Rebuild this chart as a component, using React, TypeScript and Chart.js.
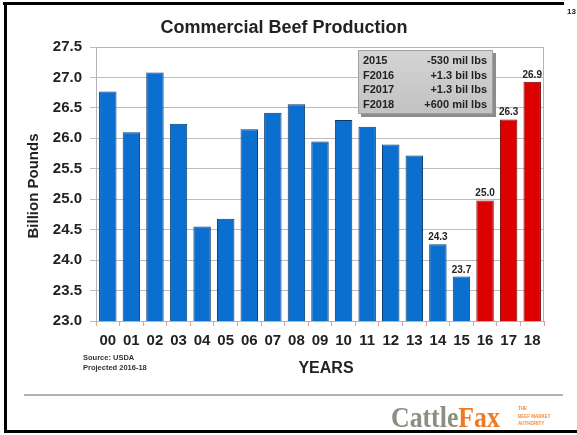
import React, { useEffect, useRef } from "react";
import { Chart, registerables } from "chart.js";

Chart.register(...registerables);

const years = ["00", "01", "02", "03", "04", "05", "06", "07", "08", "09", "10", "11", "12", "13", "14", "15", "16", "17", "18"];
const production = [26.77, 26.1, 27.08, 26.24, 24.55, 24.68, 26.15, 26.42, 26.56, 25.95, 26.3, 26.19, 25.9, 25.72, 24.26, 23.73, 24.98, 26.31, 26.93];
const projected = [false, false, false, false, false, false, false, false, false, false, false, false, false, false, false, false, true, true, true];
const showValue = [false, false, false, false, false, false, false, false, false, false, false, false, false, false, true, true, true, true, true];
const annotYears = ["2015", "F2016", "F2017", "F2018"];
const annotChanges = ["-530 mil lbs", "+1.3 bil lbs", "+1.3 bil lbs", "+600 mil lbs"];
const yMin = 23.0;
const yMax = 27.5;
const yStep = 0.5;

const FONT = '"Liberation Sans", Arial, sans-serif';

function barFill(ctx: any, isRed: boolean) {
  const el = ctx.element;
  const chart = ctx.chart;
  if (!el || !chart.ctx || el.x === undefined || !isFinite(el.x)) return isRed ? "#dd0000" : "#0b6fcf";
  const w = el.width || 18;
  const g = chart.ctx.createLinearGradient(el.x - w / 2, 0, el.x + w / 2, 0);
  if (isRed) {
    g.addColorStop(0, "#b80000");
    g.addColorStop(0.45, "#ee0a0a");
    g.addColorStop(1, "#c00000");
  } else {
    g.addColorStop(0, "#0a5cb0");
    g.addColorStop(0.45, "#1a7fe0");
    g.addColorStop(1, "#0a60b8");
  }
  return g;
}

const decorPlugin = {
  id: "decor",
  afterDatasetsDraw(chart: any) {
    const ctx = chart.ctx;
    const meta = chart.getDatasetMeta(0);
    ctx.save();
    ctx.font = `bold 10px ${FONT}`;
    ctx.fillStyle = "#222";
    ctx.textAlign = "center";
    ctx.textBaseline = "alphabetic";
    meta.data.forEach((bar: any, i: number) => {
      if (!showValue[i]) return;
      ctx.fillText(production[i].toFixed(1), bar.x, bar.y - 4);
    });
    ctx.restore();
  },
  afterDraw(chart: any) {
    const ctx = chart.ctx;
    const area = chart.chartArea;
    ctx.save();
    // plot border
    ctx.strokeStyle = "#b4b4b4";
    ctx.lineWidth = 1;
    ctx.strokeRect(area.left + 0.5, area.top + 0.5, area.right - area.left - 1, area.bottom - area.top);

    // frame
    ctx.fillStyle = "#000";
    ctx.fillRect(3, 2, 561, 3);
    ctx.fillRect(4, 2, 3, 431);
    ctx.fillRect(4, 430, 573, 3);

    // page number
    ctx.font = `bold 8px ${FONT}`;
    ctx.textAlign = "left";
    ctx.textBaseline = "middle";
    ctx.fillStyle = "#222";
    ctx.fillText("13", 567, 12);

    // title
    ctx.font = `bold 18px ${FONT}`;
    ctx.textAlign = "center";
    ctx.textBaseline = "middle";
    ctx.fillStyle = "#222";
    ctx.fillText("Commercial Beef Production", 284, 28);

    // y title
    ctx.save();
    ctx.translate(34, 186);
    ctx.rotate(-Math.PI / 2);
    ctx.font = `bold 15px ${FONT}`;
    ctx.fillText("Billion Pounds", 0, 0);
    ctx.restore();

    // x title
    ctx.font = `bold 16px ${FONT}`;
    ctx.fillText("YEARS", 326, 369);

    // source
    ctx.font = `bold 7.5px ${FONT}`;
    ctx.textAlign = "left";
    ctx.fillStyle = "#333";
    ctx.fillText("Source: USDA", 83, 358);
    ctx.fillText("Projected 2016-18", 83, 368);

    // separator
    ctx.strokeStyle = "#9a9a9a";
    ctx.lineWidth = 1.5;
    ctx.beginPath();
    ctx.moveTo(24, 395);
    ctx.lineTo(563, 395);
    ctx.stroke();

    // annotation box
    const bx = 358, by = 50, bw = 135, bh = 64;
    ctx.fillStyle = "#8c8c8c";
    ctx.fillRect(bx + 3, by + 3, bw, bh);
    const g = ctx.createLinearGradient(bx, by, bx, by + bh);
    g.addColorStop(0, "#d4d4d4");
    g.addColorStop(1, "#c2c2c2");
    ctx.fillStyle = g;
    ctx.fillRect(bx, by, bw, bh);
    ctx.strokeStyle = "#a0a0a0";
    ctx.lineWidth = 1;
    ctx.strokeRect(bx + 0.5, by + 0.5, bw - 1, bh - 1);
    ctx.font = `bold 11px ${FONT}`;
    ctx.fillStyle = "#222";
    ctx.textBaseline = "middle";
    annotYears.forEach((t, i) => {
      const y = by + 11 + i * 14.5;
      ctx.textAlign = "left";
      ctx.fillText(t, bx + 5, y);
      ctx.textAlign = "right";
      ctx.fillText(annotChanges[i], bx + bw - 6, y);
    });

    // logo
    ctx.save();
    ctx.translate(391, 427);
    ctx.scale(0.86, 1);
    ctx.font = `bold 30px "Liberation Serif", "Times New Roman", serif`;
    ctx.textAlign = "left";
    ctx.textBaseline = "alphabetic";
    ctx.fillStyle = "#8b8f80";
    ctx.fillText("Cattle", 0, 0);
    const cw = ctx.measureText("Cattle").width;
    ctx.fillStyle = "#f07a22";
    ctx.fillText("Fax", cw, 0);
    ctx.restore();

    ctx.font = `bold 4.5px ${FONT}`;
    ctx.fillStyle = "#f08a3a";
    ctx.textAlign = "left";
    ctx.fillText("THE", 518, 409);
    ctx.fillText("BEEF MARKET", 518, 417);
    ctx.fillText("AUTHORITY", 518, 424);

    ctx.restore();
  },
};

export default function App() {
  const ref = useRef<HTMLCanvasElement>(null);
  useEffect(() => {
    if (!ref.current) return;
    const chart = new Chart(ref.current, {
      type: "bar",
      data: {
        labels: years,
        datasets: [
          {
            data: production,
            backgroundColor: (c: any) => barFill(c, projected[c.dataIndex]),
            borderColor: (c: any) => (projected[c.dataIndex] ? "#6a0000" : "#0a3a6e"),
            borderWidth: 1,
            barPercentage: 0.74,
            categoryPercentage: 1.0,
          },
        ],
      },
      options: {
        responsive: false,
        animation: false,
        devicePixelRatio: 1,
        layout: { padding: { left: 0, top: 47, right: 33, bottom: 84 } },
        plugins: {
          legend: { display: false },
          tooltip: { enabled: false },
          title: { display: false },
        },
        scales: {
          x: {
            afterFit: (s: any) => {
              s.height = 30;
            },
            grid: {
              drawOnChartArea: false,
              drawTicks: true,
              tickLength: 5,
              color: "#d8a0a0",
            },
            border: { display: false },
            ticks: {
              color: "#222",
              padding: 6,
              font: { family: FONT, size: 15, weight: "bold" },
              maxRotation: 0,
              autoSkip: false,
            },
          },
          y: {
            min: yMin,
            max: yMax,
            afterFit: (s: any) => {
              s.width = 96;
            },
            grid: { color: "#bcbcbc", tickLength: 6, lineWidth: 1 },
            border: { display: false },
            ticks: {
              stepSize: yStep,
              color: "#222",
              padding: 8,
              font: { family: FONT, size: 15, weight: "bold" },
              callback: (v: any) => Number(v).toFixed(1),
            },
          },
        },
      },
      plugins: [decorPlugin],
    });
    return () => chart.destroy();
  }, []);
  return (
    <div style={{ position: "fixed", left: 0, top: 0, width: 577, height: 435, background: "#fff" }}>
      <canvas ref={ref} width={577} height={435} style={{ display: "block" }} />
    </div>
  );
}
